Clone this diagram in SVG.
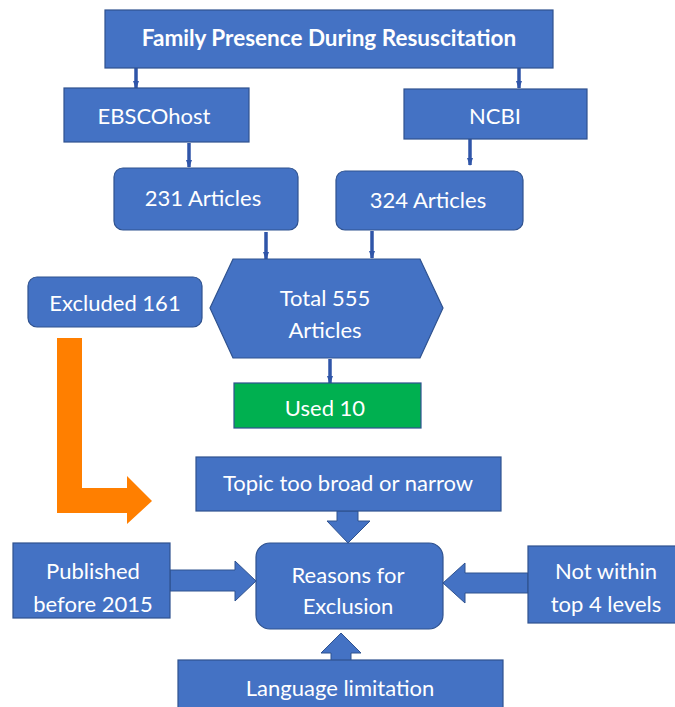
<svg xmlns="http://www.w3.org/2000/svg" width="675" height="707" viewBox="0 0 675 707">
<defs>
<style>
.box{fill:#4472C4;stroke:#2F528F;stroke-width:1.2}
.green{fill:#00B050;stroke:#2F528F;stroke-width:1.2}
.t{font-family:Lato,"Open Sans","Liberation Sans",sans-serif;font-size:22px;fill:#FFFFFF;text-anchor:middle;dominant-baseline:central}
.b{font-weight:bold;font-size:22.5px}
.ln{stroke:#2F55A8;stroke-width:3.5;fill:none;marker-end:url(#ah)}
.blk{fill:#4472C4;stroke:#2F528F;stroke-width:1}
.org{fill:#FF7F00}
</style>
<marker id="ah" viewBox="0 0 8 6" refX="7" refY="3" markerWidth="2.4" markerHeight="1.8" orient="auto" markerUnits="strokeWidth">
<path d="M0,0 L8,3 L0,6 Z" fill="#2F55A8"/>
</marker>
</defs>
<rect width="675" height="707" fill="#FFFFFF"/>
<g id="connectors">
<line class="ln" x1="136" y1="68" x2="136" y2="88"/>
<line class="ln" x1="519" y1="68" x2="519" y2="88"/>
<line class="ln" x1="189" y1="143" x2="189" y2="167"/>
<line class="ln" x1="470" y1="139" x2="470" y2="165"/>
<line class="ln" x1="266" y1="232" x2="266" y2="259"/>
<line class="ln" x1="372" y1="231" x2="372" y2="258"/>
<line class="ln" x1="330" y1="359" x2="330" y2="383"/>
<polygon class="org" points="57,338 82,338 82,488 127,488 127,476 152,501 127,524 127,513 57,513"/>
<polygon class="blk" points="170,570 235,570 235,561 256,581 235,601 235,591 170,591"/>
<polygon class="blk" points="528,573 465,573 465,563 443,583 465,603 465,593 528,593"/>
<polygon class="blk" points="337,511 358,511 358,521 370,521 348,543 327,521 337,521"/>
<polygon class="blk" points="331,661 331,653 321,653 341,633 361,653 351,653 351,661"/>
</g>
<g id="title">
<rect class="box" x="105" y="10" width="448" height="58"/>
<text class="t b" x="329" y="37">Family Presence During Resuscitation</text>
</g>
<g id="ebsco">
<rect class="box" x="64" y="88" width="185" height="54"/>
<text class="t" x="154" y="115">EBSCOhost</text>
</g>
<g id="ncbi">
<rect class="box" x="404" y="89" width="183" height="50"/>
<text class="t" x="495" y="115">NCBI</text>
</g>
<g id="a231">
<rect class="box" x="114" y="168" width="184" height="62" rx="9"/>
<text class="t" x="203" y="197">231 Articles</text>
</g>
<g id="a324">
<rect class="box" x="336" y="171" width="187" height="59" rx="9"/>
<text class="t" x="428" y="199">324 Articles</text>
</g>
<g id="excluded">
<rect class="box" x="28" y="277" width="174" height="50" rx="9"/>
<text class="t" x="115" y="302">Excluded 161</text>
</g>
<g id="total">
<polygon class="box" points="210,308 233,259 420,259 443,308 420,358 233,358"/>
<text class="t" x="325" y="297">Total 555</text>
<text class="t" x="325" y="329">Articles</text>
</g>
<g id="used">
<rect class="green" x="234" y="383" width="187" height="45"/>
<text class="t" x="325" y="407">Used 10</text>
</g>
<g id="topic">
<rect class="box" x="196" y="457" width="305" height="54"/>
<text class="t" x="348" y="482">Topic too broad or narrow</text>
</g>
<g id="reasons">
<rect class="box" x="256" y="543" width="187" height="86" rx="14"/>
<text class="t" x="348" y="574">Reasons for</text>
<text class="t" x="348" y="605">Exclusion</text>
</g>
<g id="published">
<rect class="box" x="13" y="543" width="157" height="75"/>
<text class="t" x="93" y="570">Published</text>
<text class="t" x="93" y="603">before 2015</text>
</g>
<g id="notwithin">
<rect class="box" x="528" y="546" width="150" height="77"/>
<text class="t" x="606" y="570">Not within</text>
<text class="t" x="606" y="603">top 4 levels</text>
</g>
<g id="language">
<rect class="box" x="178" y="660" width="325" height="50"/>
<text class="t" x="340" y="687">Language limitation</text>
</g>
</svg>
